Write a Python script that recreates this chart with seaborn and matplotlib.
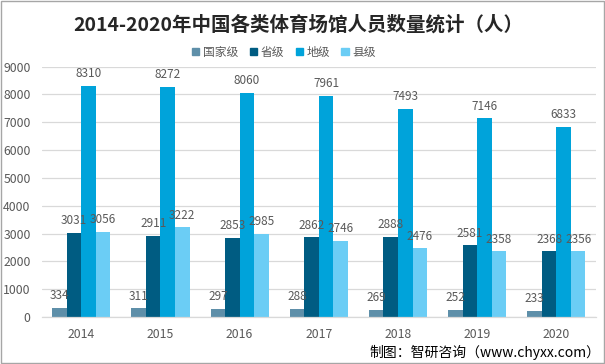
import matplotlib
matplotlib.use("Agg")
import matplotlib.pyplot as plt
import seaborn as sns
import pandas as pd
from matplotlib.patches import Rectangle

years = ["2014", "2015", "2016", "2017", "2018", "2019", "2020"]
series_names = ["国家级", "省级", "地级", "县级"]
national = [334, 311, 297, 288, 269, 252, 233]
provincial = [3031, 2911, 2853, 2862, 2888, 2581, 2368]
prefecture = [8310, 8272, 8060, 7961, 7493, 7146, 6833]
county = [3056, 3222, 2985, 2746, 2476, 2358, 2356]
colors = ["#5E8FA9", "#005C82", "#00A3DA", "#6BCDF5"]

rows = []
for name, vals in zip(series_names, [national, provincial, prefecture, county]):
    for y, v in zip(years, vals):
        rows.append({"year": y, "series": name, "value": v})
df = pd.DataFrame(rows)

sns.set_theme(style="white")
plt.rcParams['font.family'] = ['Noto Sans CJK SC', 'DejaVu Sans']

fig = plt.figure(figsize=(6.05, 3.64), dpi=100)
ax = fig.add_axes([0.069, 0.129, 0.916, 0.688])

sns.barplot(data=df, x="year", y="value", hue="series", palette=colors,
            width=0.735, gap=0, ax=ax, legend=False, saturation=1,
            linewidth=0, edgecolor="none")

ax.set_ylim(0, 9000)
ax.set_yticks(range(0, 9001, 1000))
ax.yaxis.grid(True, color="#D9D9D9", linewidth=0.9)
ax.set_axisbelow(True)
for s in ["top", "right", "left"]:
    ax.spines[s].set_visible(False)
ax.spines["bottom"].set_color("#D9D9D9")
ax.spines["bottom"].set_linewidth(0.9)
ax.set_xlabel("")
ax.set_ylabel("")
ax.tick_params(axis="both", length=0, labelsize=8.8, labelcolor="#595959")
ax.tick_params(axis="y", pad=8)
ax.tick_params(axis="x", pad=8)

for cont in ax.containers:
    ax.bar_label(cont, padding=4, fontsize=8.5, color="#595959")

# legend
handles = [Rectangle((0, 0), 1, 1, color=c) for c in colors]
fig.legend(handles, series_names, loc="center", bbox_to_anchor=(0.469, 0.857),
           ncol=4, frameon=False, fontsize=8.5, handlelength=0.6, handleheight=0.6,
           handletextpad=0.3, columnspacing=1.0, labelcolor="#595959")

fig.text(0.493, 0.933, "2014-2020年中国各类体育场馆人员数量统计（人）", ha="center", va="center",
         fontsize=14, fontweight="bold", color="#262626")
fig.text(0.993, 0.033, "制图：智研咨询（www.chyxx.com）", ha="right", va="center",
         fontsize=10, color="#000000")

fig.patches.append(Rectangle((0.001, 0.002), 0.997, 0.995, transform=fig.transFigure,
                             fill=False, edgecolor="#A6A6A6", linewidth=1))

fig.savefig("out.png", dpi=100)
